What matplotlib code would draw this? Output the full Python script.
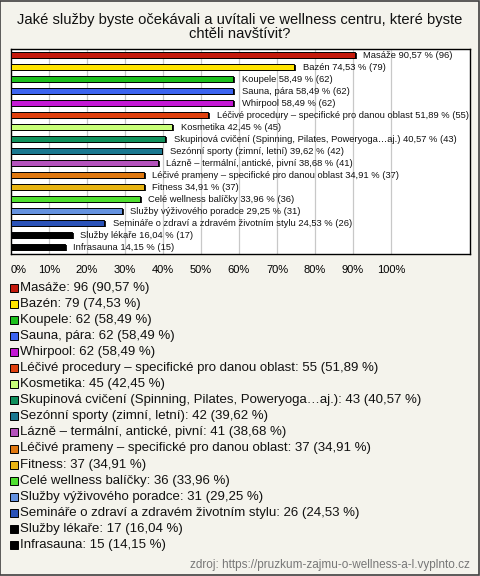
import matplotlib.pyplot as plt
from matplotlib.patches import Rectangle

plt.rcParams['font.family'] = ['Liberation Sans', 'DejaVu Sans']

title = "Jaké služby byste očekávali a uvítali ve wellness centru, které byste\nchtěli navštívit?"
categories = [
    "Masáže", "Bazén", "Koupele", "Sauna, pára", "Whirpool",
    "Léčivé procedury – specifické pro danou oblast", "Kosmetika",
    "Skupinová cvičení (Spinning, Pilates, Poweryoga…aj.)",
    "Sezónní sporty (zimní, letní)", "Lázně – termální, antické, pivní",
    "Léčivé prameny – specifické pro danou oblast", "Fitness",
    "Celé wellness balíčky", "Služby výživového poradce",
    "Semináře o zdraví a zdravém životním stylu", "Služby lékaře", "Infrasauna",
]
counts = [96, 79, 62, 62, 62, 55, 45, 43, 42, 41, 37, 37, 36, 31, 26, 17, 15]
percents = [90.57, 74.53, 58.49, 58.49, 58.49, 51.89, 42.45, 40.57, 39.62,
            38.68, 34.91, 34.91, 33.96, 29.25, 24.53, 16.04, 14.15]
colors = ["#c41a0c", "#ffe400", "#1cc01c", "#3c64f0", "#c418d4", "#e0400e",
          "#c8ff78", "#10905c", "#1a7890", "#b452bc", "#e07810", "#e8b412",
          "#50e030", "#6492e0", "#2a52b8", "#000000", "#000000"]
xticks = [0, 10, 20, 30, 40, 50, 60, 70, 80, 90, 100]
source = "zdroj: https://pruzkum-zajmu-o-wellness-a-l.vyplnto.cz"


def cz(p):
    return f"{p:.2f}".replace(".", ",")


bg = "#f4f3ec"
fig = plt.figure(figsize=(4.8, 5.76), dpi=100, facecolor=bg)
fig.patches.append(Rectangle((0.001, 0.001), 0.997, 0.997, transform=fig.transFigure,
                             fill=False, edgecolor="#404040", linewidth=1.2))

fig.text(0.5, 1 - 27 / 576, title, ha="center", va="center", fontsize=10.6,
         linespacing=1.0, color="#111111")

ax = fig.add_axes([11 / 480, 1 - 254 / 576, 459 / 480, 205 / 576])
ax.set_facecolor("white")
ax.set_xlim(0, 120.8)
ax.set_ylim(16.58, -0.5)

for x in xticks[1:]:
    ax.axvline(x, color="#c8c8c8", linewidth=0.9, zorder=0)

ys = list(range(len(categories)))
# shadow for a little 3D look
ax.barh([y + 0.1 for y in ys], percents, left=0.5, height=0.5, color="#202020",
        zorder=2)
ax.barh(ys, percents, height=0.5, color=colors, edgecolor="black",
        linewidth=0.7, zorder=3)

for y, cat, p, c in zip(ys, categories, percents, counts):
    ax.text(p + 2.2, y, f"{cat} {cz(p)} % ({c})", va="center", ha="left",
            fontsize=6.75, color="#111111", zorder=4)

ax.set_xticks(xticks)
ax.set_xticklabels([f"{x}%" for x in xticks], fontsize=8)
ax.tick_params(axis="x", length=0, pad=8)
ax.get_xticklabels()[0].set_ha("left")
ax.set_yticks([])
for s in ax.spines.values():
    s.set_linewidth(1.0)
    s.set_color("black")

# legend rows below the chart
y0 = 288
step = 16.05
for i, (cat, c, p, col) in enumerate(zip(categories, counts, percents, colors)):
    yy = 1 - (y0 + i * step) / 576
    fig.patches.append(Rectangle((9.5 / 480, yy - 4 / 576), 8 / 480, 8 / 576,
                                 transform=fig.transFigure, facecolor=col,
                                 edgecolor="black", linewidth=0.7))
    fig.text(20 / 480, yy, f"{cat}: {c} ({cz(p)} %)",
             ha="left", va="center", fontsize=9.5, color="#111111")

fig.text(470 / 480, 1 - 565 / 576, source, ha="right", va="center",
         fontsize=8.5, color="#777777")

fig.savefig("out.png", dpi=100, facecolor=bg)
